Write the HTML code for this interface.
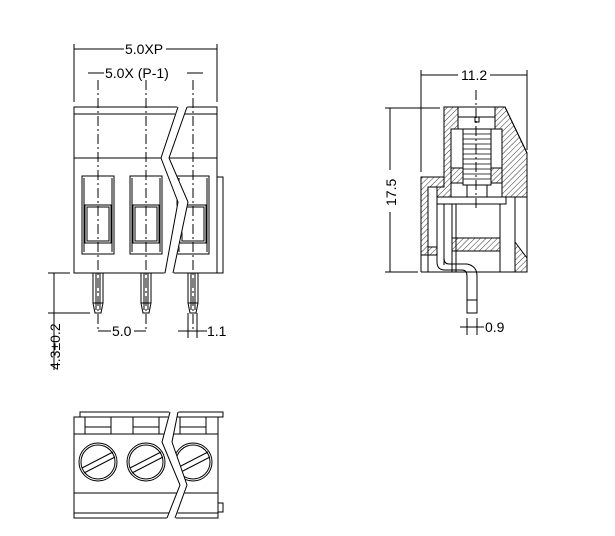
<!DOCTYPE html>
<html><head><meta charset="utf-8"><style>
html,body{margin:0;padding:0;background:#fff;width:615px;height:536px;overflow:hidden}
svg{display:block}
text{font-family:"Liberation Sans",sans-serif;font-size:14px;fill:#000}
</style></head><body>
<svg width="615" height="536" viewBox="0 0 615 536" xmlns="http://www.w3.org/2000/svg">
<defs>
<pattern id="h" width="4" height="4" patternUnits="userSpaceOnUse" patternTransform="rotate(45)">
<line x1="0" y1="0" x2="0" y2="4" stroke="#000" stroke-width="0.8"/></pattern>
</defs>
<g fill="none" stroke="#000" stroke-width="1">
<rect x="74" y="107" width="143" height="166" fill="#fff"/>
<line x1="74" y1="114" x2="217" y2="114"/>
<line x1="74" y1="158" x2="217" y2="158"/>
<polyline points="217,177 223,177 223,273 217,273"/>
<g id="slot">
<rect x="82" y="176" width="32" height="78"/>
<rect x="85" y="205" width="26" height="38"/>
<rect x="87" y="207" width="22" height="34"/>
<line x1="84" y1="178" x2="84" y2="252"/><line x1="112" y1="178" x2="112" y2="252"/>
</g>
<use href="#slot" x="48"/>
<use href="#slot" x="95"/>
<polygon points="178,106 187,106 169,158 188,202 173,274 165,274 178,202 161,158" fill="#fff" stroke="#fff"/>
<polyline points="178,107 161,158 178,202 165,273"/>
<polyline points="187,107 169,158 188,202 173,273"/>
<g stroke-dasharray="10,3,2,3">
<line x1="98" y1="80" x2="98" y2="330"/>
<line x1="146" y1="80" x2="146" y2="330"/>
<line x1="193" y1="80" x2="193" y2="330"/>
</g>
<g id="pin">
<polyline points="93,273 93,303 95,313 101,313 103,303 103,273"/>
<line x1="96" y1="273" x2="96" y2="310"/><line x1="100" y1="273" x2="100" y2="310"/>
<line x1="93" y1="303" x2="103" y2="303"/>
</g>
<use href="#pin" x="48"/>
<use href="#pin" x="95"/>
<line x1="74" y1="44" x2="74" y2="102"/><line x1="217" y1="44" x2="217" y2="102"/>
<line x1="74" y1="49" x2="124" y2="49"/><line x1="166" y1="49" x2="217" y2="49"/>
<line x1="88" y1="73" x2="104" y2="73"/><line x1="187" y1="73" x2="203" y2="73"/>
<line x1="48" y1="273" x2="70" y2="273"/><line x1="48" y1="313" x2="90" y2="313"/>
<line x1="54" y1="273" x2="54" y2="370"/>
<line x1="98" y1="331" x2="111" y2="331"/><line x1="134" y1="331" x2="146" y2="331"/>
<line x1="188" y1="313" x2="188" y2="338"/><line x1="197" y1="313" x2="197" y2="338"/>
<line x1="178" y1="331" x2="207" y2="331"/>

<polyline points="74,417 80,417 80,412 223,412 223,417 217,417"/>
<rect x="74" y="417" width="144" height="101" fill="#fff"/>
<line x1="74" y1="434" x2="218" y2="434"/>
<line x1="74" y1="493" x2="218" y2="493"/>
<line x1="74" y1="513" x2="218" y2="513"/>
<polyline points="218,503 223,503 223,512 218,512"/>
<g id="bt">
<rect x="85" y="417" width="26" height="10"/><line x1="85" y1="427" x2="85" y2="434"/><line x1="111" y1="427" x2="111" y2="434"/>
<circle cx="98" cy="462" r="19"/><circle cx="98" cy="462" r="17"/>
<line x1="82" y1="468" x2="113" y2="452"/><line x1="84" y1="473" x2="115" y2="457"/>
</g>
<use href="#bt" x="48"/>
<use href="#bt" x="95"/>
<polygon points="170,411 178,411 172,442 187,485 175,519 167,519 180,485 162,442" fill="#fff" stroke="#fff"/>
<polyline points="170,412 162,442 180,485 167,518"/>
<polyline points="178,412 172,442 187,485 175,518"/>

<line x1="421" y1="70" x2="421" y2="172"/><line x1="527" y1="70" x2="527" y2="150"/>
<line x1="421" y1="75" x2="458" y2="75"/><line x1="490" y1="75" x2="527" y2="75"/>
<line x1="385" y1="108" x2="440" y2="108"/><line x1="385" y1="272" x2="418" y2="272"/>
<line x1="390" y1="108" x2="390" y2="170"/><line x1="390" y1="212" x2="390" y2="272"/>
<path d="M444,107 L458,107 L458,129 L451,129 L451,197 L437,197 L437,187 L444,187 Z" fill="url(#h)"/>
<path d="M495,107 L505,107 L527,153 L527,197 L502,197 L502,129 L495,129 Z" fill="url(#h)"/>
<path d="M421,177 L444,177 L444,187 L428,187 L428,247 L437,247 L437,255 L421,255 Z" fill="url(#h)"/>
<path d="M515,242 L527,258 L527,272 L515,272 Z" fill="url(#h)"/>
<rect x="451" y="168" width="12" height="15" fill="url(#h)"/>
<rect x="491" y="168" width="11" height="15" fill="url(#h)"/>
<rect x="452" y="238" width="48" height="13" fill="url(#h)"/>
<polyline points="421,272 421,177 444,177 444,107 505,107 527,153 527,272 421,272"/>
<rect x="458" y="107" width="37" height="22" fill="#fff"/>
<polyline points="470,117 475,117 475,122 479,122 479,117 484,117"/>
<line x1="458" y1="117" x2="495" y2="117"/>
<rect x="463" y="129" width="28" height="56" fill="#fff"/>
<g stroke-width="0.8">
<path d="M463,134h28M463,139h28M463,144h28M463,149h28M463,154h28M463,159h28M463,164h28M463,169h28M463,174h28M463,179h28"/>
</g>
<rect x="467" y="185" width="20" height="12"/>
<rect x="437" y="197" width="69" height="7" fill="#fff"/>
<rect x="452" y="204" width="48" height="68"/>
<line x1="456" y1="204" x2="456" y2="272"/>
<line x1="500" y1="197" x2="515" y2="197"/><line x1="515" y1="197" x2="515" y2="272"/>
<line x1="428" y1="187" x2="428" y2="272"/>
<line x1="444" y1="204" x2="444" y2="265"/>
<path d="M437,204 L437,262 Q437,270 445,270 L462,270 Q467,270 467,276 L467,313 L477,313 L477,276 Q477,266 467,264 L449,264 Q444,264 444,258"/>
<line x1="467" y1="300" x2="477" y2="300"/>
<line x1="476" y1="90" x2="476" y2="210" stroke-dasharray="10,3,2,3"/>
<line x1="467" y1="318" x2="467" y2="335"/><line x1="477" y1="318" x2="477" y2="335"/>
<line x1="460" y1="327" x2="484" y2="327"/>
</g>
<text x="125" y="54">5.0XP</text>
<text x="105" y="78">5.0X (P-1)</text>
<text x="112" y="336">5.0</text>
<text x="207" y="336">1.1</text>
<text transform="translate(60,370) rotate(-90)">4.3±0.2</text>
<text x="461" y="80">11.2</text>
<text transform="translate(396,206) rotate(-90)">17.5</text>
<text x="485" y="332">0.9</text>
</svg>
</body></html>
